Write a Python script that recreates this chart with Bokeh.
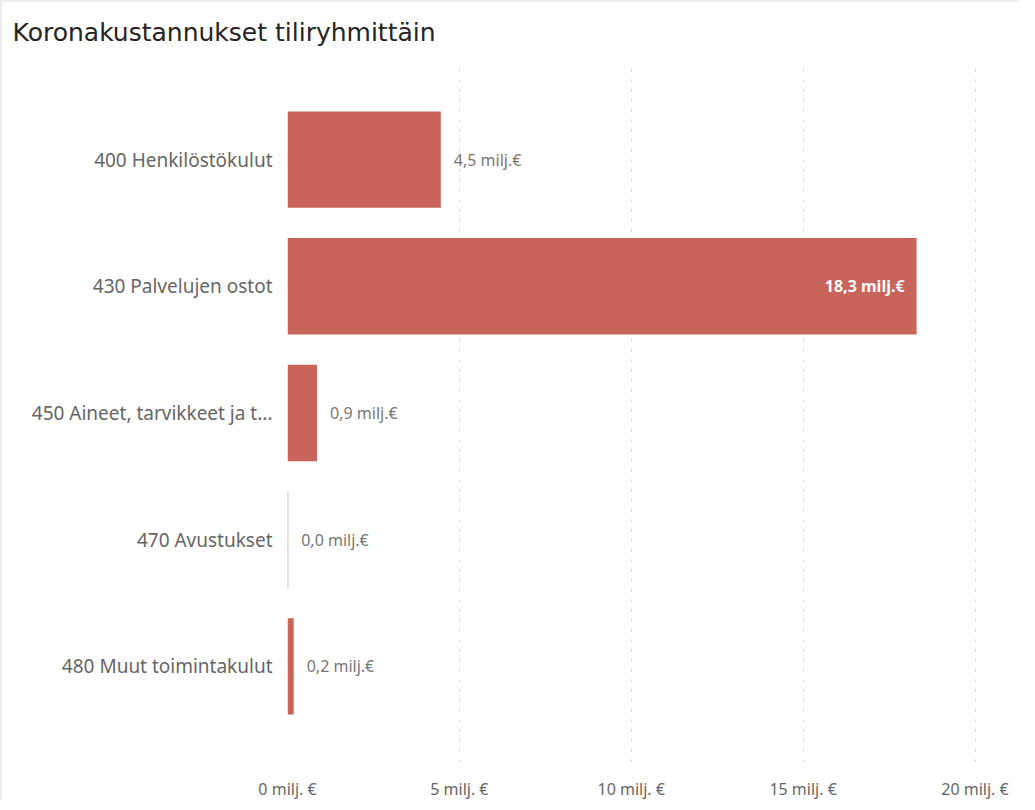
from bokeh.plotting import figure
from bokeh.models import FactorRange, Range1d, FixedTicker, PrintfTickFormatter, ColumnDataSource
from bokeh.core.properties import value
from bokeh.embed import file_html
from bokeh.resources import INLINE

# ---- data ----
categories = ["400 Henkilöstökulut", "430 Palvelujen ostot",
              "450 Aineet, tarvikkeet ja t...", "470 Avustukset",
              "480 Muut toimintakulut"]
values = [4.46, 18.3, 0.86, 0.02, 0.18]
x_ticks = [0, 5, 10, 15, 20]
title_text = "Koronakustannukset tiliryhmittäin"

BAR = "#C9645B"
TXT = "#666666"

labels = [f"{v:.1f}".replace(".", ",") + " milj.€" for v in values]
inside = [v > 10 for v in values]

src_out = ColumnDataSource(dict(
    y=[c for c, i in zip(categories, inside) if not i],
    x=[v for v, i in zip(values, inside) if not i],
    t=[l for l, i in zip(labels, inside) if not i]))
src_in = ColumnDataSource(dict(
    y=[c for c, i in zip(categories, inside) if i],
    x=[v for v, i in zip(values, inside) if i],
    t=[l for l, i in zip(labels, inside) if i]))

yr = FactorRange(factors=list(reversed(categories)), range_padding=0.25,
                 range_padding_units="absolute")

p = figure(width=1019, height=800, y_range=yr, x_range=Range1d(0, 20.8),
           output_backend="svg", toolbar_location=None, title=title_text,
           min_border_left=285, min_border_right=19, min_border_top=62,
           min_border_bottom=39)
p.styles = {"border-top": "2px solid #ededed", "border-left": "2px solid #ededed"}

p.hbar(y=categories, right=values, height=0.76, color=BAR, line_color=None)

p.text(x="x", y="y", text="t", source=src_out, x_offset=13,
       text_align="left", text_baseline="middle",
       text_font=value("Noto Sans"), text_font_size="16px", text_color="#777777")
p.text(x="x", y="y", text="t", source=src_in, x_offset=-12,
       text_align="right", text_baseline="middle",
       text_font=value("Noto Sans"), text_font_size="16px", text_color="white",
       text_font_style="bold")

p.title.align = "left"
p.title.vertical_align = "top"
p.title.offset = -275
p.title.text_font = "DejaVu Sans"
p.title.text_font_size = "25px"
p.title.text_font_style = "normal"
p.title.text_color = "#252423"
p.title.standoff = 31

p.outline_line_color = None
p.background_fill_color = "white"
p.border_fill_color = "white"

p.ygrid.grid_line_color = None
p.xgrid.ticker = FixedTicker(ticks=x_ticks)
p.xgrid.grid_line_color = "#c8c8c8"
p.xgrid.grid_line_dash = "2 8"
p.xgrid.grid_line_width = 1

p.xaxis.ticker = FixedTicker(ticks=x_ticks)
p.xaxis.formatter = PrintfTickFormatter(format="%d milj. €")
for ax in (p.xaxis[0], p.yaxis[0]):
    ax.axis_line_color = None
    ax.major_tick_line_color = None
    ax.minor_tick_line_color = None
    ax.major_label_text_color = TXT
    ax.major_label_text_font = "Noto Sans"
p.xaxis.major_label_text_font_size = "16px"
p.yaxis.major_label_text_font_size = "19px"
p.xaxis.major_label_standoff = 10
p.yaxis.major_label_standoff = 9

open("out.html", "w").write(file_html(p, INLINE))
